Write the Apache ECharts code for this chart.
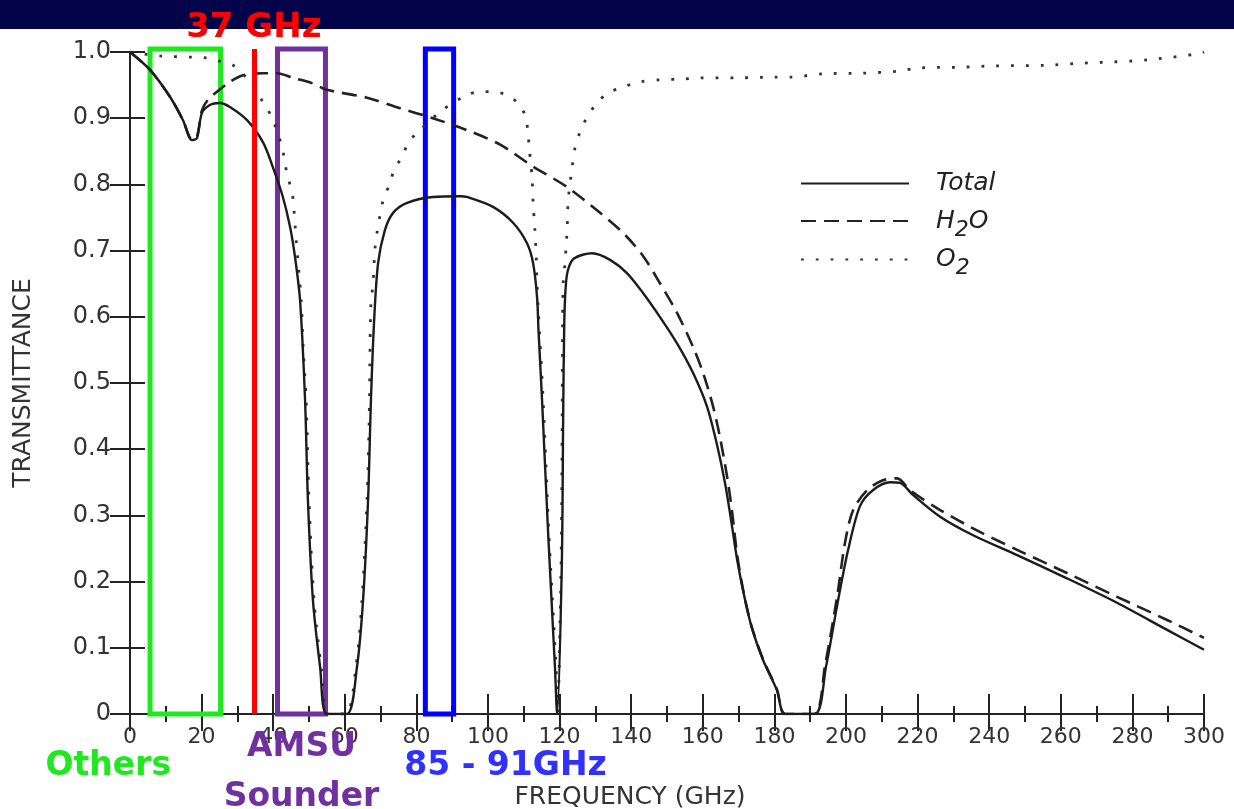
<!DOCTYPE html>
<html><head><meta charset="utf-8">
<script src="https://cdn.jsdelivr.net/npm/echarts@6/dist/echarts.min.js"></script>
<style>html,body{margin:0;padding:0;background:#ffffff}#c{width:1234px;height:809px}</style>
</head><body><div id="c"></div>
<script>
// ---- data ----
const totalFreq = [0,5.6,11.2,14.8,17.3,18.7,20.1,22.3,25.1,27.9,32.7,37.2,39.9,42.7,44.7,46.1,47.5,48.9,49.7,51.1,53.1,55.0,60.6,63.4,65.1,66.5,67.3,68.2,69.3,71.2,73.5,77.4,84.6,92.2,94.1,101.4,107.0,110.9,112.6,113.7,114.1,115.1,116.8,118.7,119.3,120.6,121.0,121.3,121.7,122.3,124.0,129.1,134.1,138.8,143.3,148.0,152.8,157.3,161.2,164.0,166.2,167.9,169.6,171.5,173.7,176.8,180.7,183.0,191.3,194.4,197.8,200.6,203.9,207.5,212.3,215.1,218.7,226.3,235.5,247.8,261.7,275.7,289.7,300];
const totalT    = [1.0,0.973,0.932,0.897,0.867,0.870,0.908,0.920,0.923,0.917,0.897,0.863,0.826,0.781,0.736,0.690,0.625,0.474,0.323,0.172,0.071,0,0,0.071,0.172,0.323,0.474,0.595,0.681,0.731,0.757,0.772,0.781,0.782,0.781,0.766,0.742,0.711,0.681,0.630,0.580,0.474,0.273,0.071,0,0.22,0.45,0.59,0.645,0.670,0.688,0.696,0.686,0.666,0.636,0.600,0.560,0.515,0.464,0.406,0.349,0.293,0.233,0.180,0.130,0.082,0.036,0,0,0.071,0.172,0.248,0.314,0.338,0.350,0.349,0.331,0.298,0.270,0.240,0.205,0.168,0.127,0.097];

const h2oFreq = [0,5.6,11.2,14.8,17.3,18.7,20.1,21.8,24.3,27.9,31.6,37.2,41.1,45.5,50.8,55.0,66.2,75.4,84.6,94.1,103.4,112.6,122.1,131.3,137.7,143.3,148.0,152.8,157.3,160.1,162.9,164.8,166.8,168.2,169.6,171.5,173.7,176.8,180.7,183.0,191.1,194.2,197.6,199.7,202.0,205.9,210.3,214.3,217.9,226.3,237.4,247.8,261.7,275.7,289.7,300];
const h2oT    = [1.0,0.973,0.932,0.897,0.868,0.872,0.912,0.928,0.940,0.955,0.965,0.968,0.968,0.961,0.953,0.943,0.931,0.915,0.900,0.882,0.860,0.827,0.796,0.757,0.727,0.692,0.651,0.606,0.554,0.515,0.464,0.418,0.358,0.305,0.240,0.181,0.131,0.083,0.037,0,0,0.075,0.180,0.258,0.308,0.338,0.353,0.356,0.338,0.308,0.275,0.248,0.213,0.177,0.142,0.115];

const o2Freq = [0,8.4,21.5,25.1,28.8,33.0,37.2,39.7,42.5,43.3,44.1,45.3,45.8,46.1,46.4,46.9,47.8,48.4,49.2,50.0,51.4,53.4,55.3,60.3,63.1,64.8,66.2,66.8,67.0,67.3,67.9,68.4,69.0,70.7,72.4,74.0,76.0,77.7,80.2,87.2,94.1,97.8,101.4,105.3,108.1,110.3,111.2,111.5,112.3,112.6,113.1,113.4,113.7,114.0,115.4,117.0,119.0,119.4,120.4,120.7,120.85,121.0,121.5,122.1,122.4,123.5,124.3,125.7,127.7,130.4,133.5,137.7,142.5,148.0,154.2,158.7,170.0,179.6,184.4,193.6,204.5,214.5,220.7,231.8,241.1,256.2,265.4,274.6,284.1,298.0,300];
const o2T    = [1.0,0.994,0.991,0.986,0.980,0.958,0.924,0.900,0.856,0.831,0.811,0.787,0.762,0.739,0.716,0.686,0.625,0.550,0.474,0.323,0.172,0.071,0,0,0.071,0.172,0.323,0.440,0.530,0.620,0.651,0.701,0.727,0.776,0.799,0.825,0.841,0.863,0.878,0.912,0.935,0.940,0.940,0.935,0.924,0.905,0.878,0.856,0.811,0.772,0.731,0.701,0.651,0.615,0.474,0.273,0.071,0,0.222,0.424,0.600,0.651,0.681,0.731,0.776,0.826,0.855,0.879,0.902,0.923,0.938,0.947,0.955,0.958,0.959,0.961,0.961,0.962,0.962,0.967,0.968,0.971,0.976,0.977,0.979,0.980,0.983,0.985,0.988,0.997,1.0];

const seriesNames = ['Total', 'H2O', 'O2'];
const xAxisTitle = 'FREQUENCY (GHz)';
const yAxisTitle = 'TRANSMITTANCE';

// highlighted bands (GHz) and labels
const bandNames  = ['Others', 'AMSU\nSounder', '85 - 91GHz'];
const bandRanges = [[5.6, 25.3], [41.2, 54.6], [82.5, 90.4]];
const bandColors = ['#1fe81f', '#7030a0', '#0000ff'];
const bandTextColors = ['#1fe81f', '#7030a0', '#3030ff'];
const lineFreq = 34.6;
const lineLabel = '37 GHz';

function pairs(xs, ys) { return xs.map((x, i) => [x, ys[i]]); }

const FONT = 'DejaVu Sans';
const chart = echarts.init(document.getElementById('c'), null, {renderer: 'canvas'});

const axisLineStyle = {color: '#222', width: 2};

function legendFor(name, top) {
  return {
    data: [name],
    orient: 'vertical',
    left: 800, top: top, padding: 0,
    itemWidth: 108, itemHeight: 14,
    itemStyle: {opacity: 0},
    formatter: function (n) {
      if (n === 'H2O') return '{n|H}{s|2}{n|O}';
      if (n === 'O2') return '{n|O}{s|2}';
      return '{n|' + n + '}';
    },
    textStyle: {
      padding: [0, 0, 0, 22],
      rich: {
        n: {fontFamily: FONT, fontStyle: 'italic', fontSize: 25, color: '#222', lineHeight: 30},
        s: {fontFamily: FONT, fontStyle: 'italic', fontSize: 22, color: '#222', lineHeight: 30, height: 12, verticalAlign: 'bottom'}
      }
    }
  };
}

const option = {
  backgroundColor: '#ffffff',
  animation: false,
  graphic: [{
    type: 'rect', left: 0, top: 0, z: 0,
    shape: {width: 1234, height: 29},
    style: {fill: '#03034a'}
  }],
  grid: [
    {left: 130, right: 30, top: 52, bottom: 95, outerBoundsMode: 'none', containLabel: false},
    {left: 130, right: 30, top: 49, bottom: 95, outerBoundsMode: 'none', containLabel: false}
  ],
  legend: [
    legendFor(seriesNames[0], 171),
    legendFor(seriesNames[1], 208.5),
    legendFor(seriesNames[2], 247)
  ],
  xAxis: [
    {
      type: 'value', gridIndex: 0, min: 0, max: 300, interval: 20, position: 'bottom',
      name: xAxisTitle, nameLocation: 'middle', nameGap: 71,
      nameTextStyle: {fontFamily: FONT, fontSize: 25, color: '#333', padding: [0, 74, 0, 0]},
      axisLine: {show: true, lineStyle: axisLineStyle},
      axisTick: {show: true, inside: true, length: 20, lineStyle: axisLineStyle},
      minorTick: {show: true, splitNumber: 2, length: 8, lineStyle: axisLineStyle},
      splitLine: {show: false}, minorSplitLine: {show: false},
      axisLabel: {margin: 12, fontFamily: FONT, fontSize: 22, color: '#333'}
    },
    {
      type: 'value', gridIndex: 0, min: 0, max: 300, interval: 20, position: 'top',
      axisLine: {show: true, lineStyle: axisLineStyle},
      axisTick: {show: true, inside: true, length: 17, lineStyle: axisLineStyle},
      minorTick: {show: true, splitNumber: 2, length: 8, lineStyle: axisLineStyle},
      splitLine: {show: false},
      axisLabel: {show: false}
    },
    {
      type: 'value', gridIndex: 1, min: 0, max: 300, show: false
    }
  ],
  yAxis: [
    {
      type: 'value', gridIndex: 0, min: 0, max: 1, interval: 0.1, position: 'left',
      name: yAxisTitle, nameLocation: 'middle', nameRotate: 90, nameGap: 94,
      nameTextStyle: {fontFamily: FONT, fontSize: 25, color: '#333'},
      axisLine: {show: true, lineStyle: axisLineStyle},
      axisTick: {show: true, inside: true, length: 15, lineStyle: axisLineStyle},
      splitLine: {show: false},
      axisLabel: {
        margin: 19, fontFamily: FONT, fontSize: 24, color: '#333',
        formatter: v => (v === 0 ? '0' : v.toFixed(1))
      }
    },
    {
      type: 'value', gridIndex: 0, min: 0, max: 1, interval: 0.1, position: 'right',
      axisLine: {show: true, lineStyle: axisLineStyle},
      axisTick: {show: true, inside: true, length: 20, lineStyle: axisLineStyle},
      splitLine: {show: false},
      axisLabel: {show: false}
    },
    {
      type: 'value', gridIndex: 1, min: 0, max: 1, show: false
    }
  ],
  series: [
    {
      name: seriesNames[0], type: 'line', xAxisIndex: 0, yAxisIndex: 0,
      data: pairs(totalFreq, totalT), symbol: 'none', smooth: 0.3, z: 3,
      lineStyle: {color: '#1c1c1c', width: 2.4, type: 'solid'},
      itemStyle: {color: '#1c1c1c'}
    },
    {
      name: seriesNames[1], type: 'line', xAxisIndex: 0, yAxisIndex: 0,
      data: pairs(h2oFreq, h2oT), symbol: 'none', smooth: 0.3, z: 2,
      lineStyle: {color: '#222', width: 2.6, type: [15, 8]},
      itemStyle: {color: '#222'}
    },
    {
      name: seriesNames[2], type: 'line', xAxisIndex: 0, yAxisIndex: 0,
      data: pairs(o2Freq, o2T), symbol: 'none', smooth: 0.3, z: 2,
      lineStyle: {color: '#333', width: 2.8, type: [2.8, 12]},
      itemStyle: {color: '#333'}
    },
    {
      name: 'bands', type: 'line', xAxisIndex: 2, yAxisIndex: 2, data: [],
      z: 6, clip: false, silent: true,
      markArea: {
        silent: true,
        data: bandRanges.map((r, i) => [
          {
            xAxis: r[0], yAxis: 0,
            itemStyle: {color: 'rgba(0,0,0,0)', borderColor: bandColors[i], borderWidth: 5},
            label: {
              show: true, position: 'bottom', formatter: bandNames[i],
              offset: i === 0 ? [-77, 27] : (i === 2 ? [66, 27] : [0, 1]),
              fontFamily: FONT, fontWeight: 'bold', fontSize: 33,
              lineHeight: i === 1 ? 50 : 36,
              color: bandTextColors[i]
            }
          },
          {xAxis: r[1], yAxis: 1}
        ])
      },
      markLine: {
        silent: true, symbol: 'none',
        lineStyle: {color: '#ff0000', width: 5, type: 'solid'},
        label: {
          show: true, position: 'end', formatter: lineLabel, distance: 4,
          fontFamily: FONT, fontWeight: 'bold', fontSize: 34, color: '#ff0000'
        },
        data: [{xAxis: lineFreq}]
      }
    }
  ]
};
chart.setOption(option);
</script>
</body></html>
